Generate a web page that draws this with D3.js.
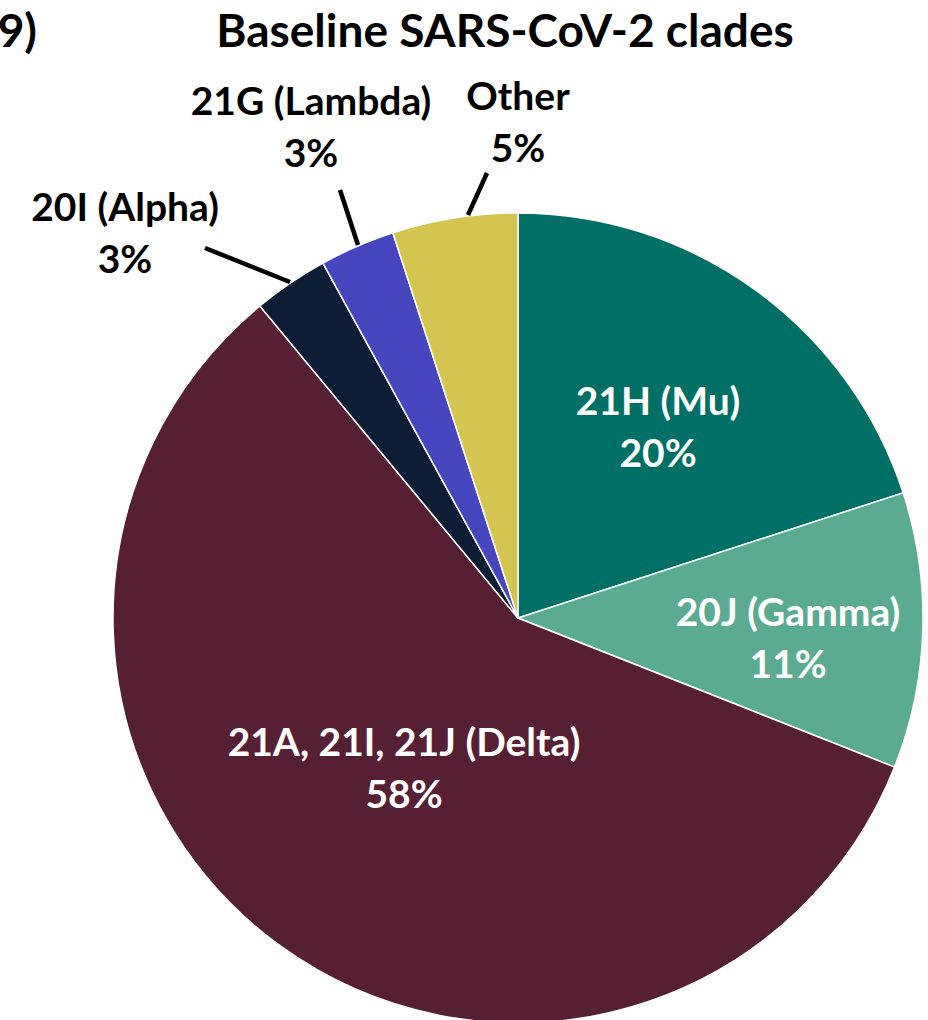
<!DOCTYPE html>
<html>
<head>
<meta charset="utf-8">
<script src="https://cdn.jsdelivr.net/npm/d3@7"></script>
<style>
  body { margin: 0; background: #fff; overflow: hidden; }
  text { font-family: Lato, "Open Sans", sans-serif; font-weight: 700; }
</style>
</head>
<body>
<div id="pieViz"></div>
<script>
// clade data, clockwise from 12 o'clock
let clades = ["21H (Mu)", "20J (Gamma)", "21A, 21I, 21J (Delta)", "20I (Alpha)", "21G (Lambda)", "Other"];
let shares = [20, 11, 58, 3, 3, 5];
let sliceColors = ["#006f66", "#5bab93", "#561f33", "#0c1d35", "#4646be", "#d4c550"];

// where each label sits, relative to the pie centre (middle between its two baselines)
let labelSpot = [[140, -177], [270, 34], [-114, 164], [-393, -371], [-207, -477], [0, -482]];
// leader lines for the three small slices
let leaders = {
  3: [[-228, -336], [-313, -370]],
  4: [[-160, -373], [-178, -428]],
  5: [[-50, -403], [-31, -445]]
};

let w = 928, h = 1020;
let cx = 518, cy = 618, radius = 405;
let fontSize = 39, lineGap = 52;

let svg = d3.select("#pieViz").append("svg")
  .attr("width", w)
  .attr("height", h);

// title and panel number (the "(" runs off the left edge, as in the original)
svg.append("text")
  .attr("x", 505)
  .attr("y", 47)
  .attr("text-anchor", "middle")
  .style("font-size", "46px")
  .text("Baseline SARS-CoV-2 clades");

svg.append("text")
  .attr("x", 37)
  .attr("y", 47)
  .attr("text-anchor", "end")
  .style("font-size", "46px")
  .text("(9)");

let pie = d3.pie().sort(null);
let arc = d3.arc().innerRadius(0).outerRadius(radius);

let g = svg.append("g")
  .attr("transform", "translate(" + cx + "," + cy + ")");

let slices = pie(shares);

g.selectAll("path")
  .data(slices)
  .enter()
  .append("path")
  .attr("d", arc)
  .attr("fill", function(d, i) { return sliceColors[i]; })
  .attr("stroke", "white")
  .attr("stroke-width", 1.5);

// leader lines
for (let i in leaders) {
  g.append("line")
    .attr("x1", leaders[i][0][0]).attr("y1", leaders[i][0][1])
    .attr("x2", leaders[i][1][0]).attr("y2", leaders[i][1][1])
    .attr("stroke", "black")
    .attr("stroke-width", 4.5);
}

// labels, white inside the big slices, black outside
slices.forEach(function(d, i) {
  let x = labelSpot[i][0], y = labelSpot[i][1];
  let t = g.append("text")
    .attr("text-anchor", "middle")
    .attr("fill", leaders[i] ? "black" : "white")
    .style("font-size", fontSize + "px");
  t.append("tspan").attr("x", x).attr("y", y - lineGap / 2).text(clades[i]);
  t.append("tspan").attr("x", x).attr("y", y + lineGap / 2).text(shares[i] + "%");
});
</script>
</body>
</html>
